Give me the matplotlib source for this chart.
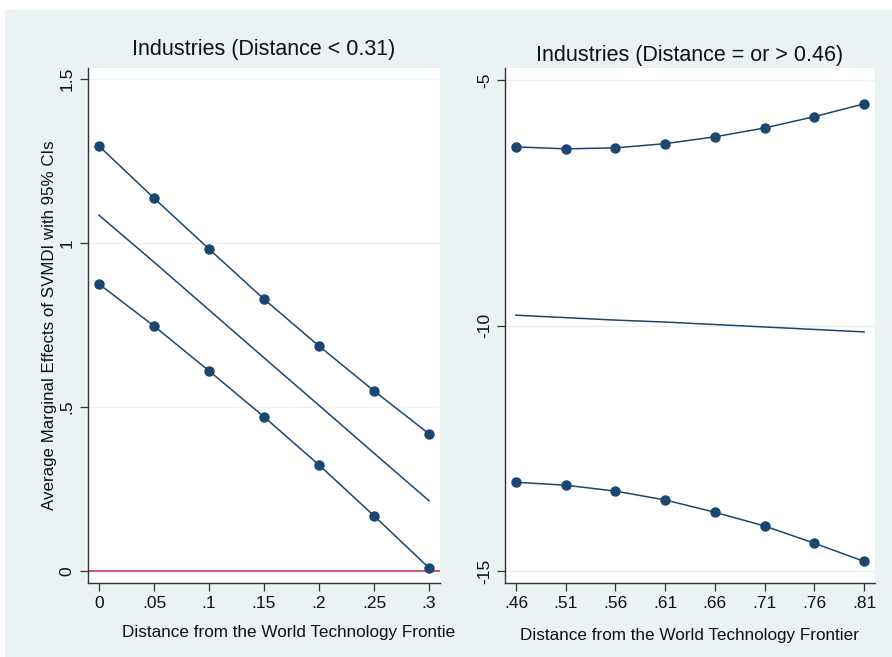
import matplotlib
matplotlib.use("Agg")
import matplotlib.pyplot as plt
from matplotlib.patches import Rectangle
from matplotlib.transforms import Bbox, TransformedBbox

plt.rcParams['font.family'] = ['Liberation Sans', 'DejaVu Sans']

# left panel: distance < 0.31
x_low = [0, 0.05, 0.1, 0.15, 0.2, 0.25, 0.3]
upper_low = [1.296, 1.137, 0.982, 0.829, 0.686, 0.549, 0.418]
me_low = [1.085, 0.942, 0.796, 0.650, 0.505, 0.359, 0.214]
lower_low = [0.875, 0.747, 0.610, 0.470, 0.323, 0.168, 0.009]
xticks_low = [0, 0.05, 0.1, 0.15, 0.2, 0.25, 0.3]
xticklabels_low = ['0', '.05', '.1', '.15', '.2', '.25', '.3']
yticks_low = [0, 0.5, 1, 1.5]
yticklabels_low = ['0', '.5', '1', '1.5']

# right panel: distance >= 0.46
x_high = [0.46, 0.51, 0.56, 0.61, 0.66, 0.71, 0.76, 0.81]
upper_high = [-6.365, -6.405, -6.385, -6.30, -6.16, -5.98, -5.75, -5.49]
me_high = [-9.79, -9.84, -9.89, -9.93, -9.98, -10.03, -10.08, -10.13]
lower_high = [-13.19, -13.25, -13.37, -13.55, -13.80, -14.08, -14.43, -14.80]
xticklabels_high = ['.46', '.51', '.56', '.61', '.66', '.71', '.76', '.81']
yticks_high = [-15, -10, -5]
yticklabels_high = ['-15', '-10', '-5']

navy = '#1a476f'
bg = '#eaf2f3'
red = '#c8284f'

fig = plt.figure(figsize=(8.92, 6.57), dpi=100, facecolor='white')
fig.patches.append(Rectangle((5 / 892, 0), 1, 647 / 657, transform=fig.transFigure,
                             facecolor=bg, edgecolor='none', zorder=-10))

ax1 = fig.add_axes([88 / 892, 74 / 657, 352 / 892, 515 / 657])
ax2 = fig.add_axes([505 / 892, 74 / 657, 370 / 892, 515 / 657])


def style(ax):
    ax.set_facecolor('white')
    for s in ['top', 'right']:
        ax.spines[s].set_visible(False)
    for s in ['left', 'bottom']:
        ax.spines[s].set_color('#333333')
        ax.spines[s].set_linewidth(1.0)
    ax.tick_params(axis='both', direction='out', length=6, width=0.9, color='#333333',
                   labelsize=12.5, labelcolor='#111111')
    ax.tick_params(axis='y', labelrotation=90)
    for lab in ax.get_yticklabels():
        lab.set_va('center')
    ax.grid(axis='y', color=bg, linewidth=1.0)
    ax.set_axisbelow(True)


# left panel
ax1.plot(x_low, upper_low, color=navy, lw=1.1, marker='o', ms=6.5)
ax1.plot(x_low, me_low, color=navy, lw=1.1)
ax1.plot(x_low, lower_low, color=navy, lw=1.1, marker='o', ms=6.5)
ax1.axhline(0, color=red, lw=1.1, zorder=1)
ax1.set_xlim(-0.01, 0.31)
ax1.set_ylim(-0.037, 1.534)
ax1.set_xticks(xticks_low)
ax1.set_xticklabels(xticklabels_low)
ax1.set_yticks(yticks_low)
ax1.set_yticklabels(yticklabels_low)
style(ax1)
ax1.set_title('Industries (Distance < 0.31)', fontsize=15.5, color='#111111', pad=9)
ax1.set_ylabel('Average Marginal Effects of SVMDI with 95% CIs', fontsize=12.2,
               color='#111111', labelpad=2)
xl = ax1.set_xlabel('Distance from the World Technology Frontier', fontsize=12.3,
                    color='#111111', labelpad=10)
xl.set_x(0.578)
xl.set_clip_on(True)
xl.set_clip_box(TransformedBbox(Bbox([[0, 0], [455 / 892, 1]]), fig.transFigure))

# right panel
ax2.plot(x_high, upper_high, color=navy, lw=1.1, marker='o', ms=6.5)
ax2.plot(x_high, me_high, color=navy, lw=1.1)
ax2.plot(x_high, lower_high, color=navy, lw=1.1, marker='o', ms=6.5)
ax2.set_xlim(0.449, 0.821)
ax2.set_ylim(-15.24, -4.76)
ax2.set_xticks(x_high)
ax2.set_xticklabels(xticklabels_high)
ax2.set_yticks(yticks_high)
ax2.set_yticklabels(yticklabels_high)
style(ax2)
ax2.set_title('Industries (Distance = or > 0.46)', fontsize=15.5, color='#111111', pad=5)
ax2.set_xlabel('Distance from the World Technology Frontier', fontsize=12.3,
               color='#111111', labelpad=12)

fig.savefig('out.png', dpi=100, facecolor=fig.get_facecolor())
